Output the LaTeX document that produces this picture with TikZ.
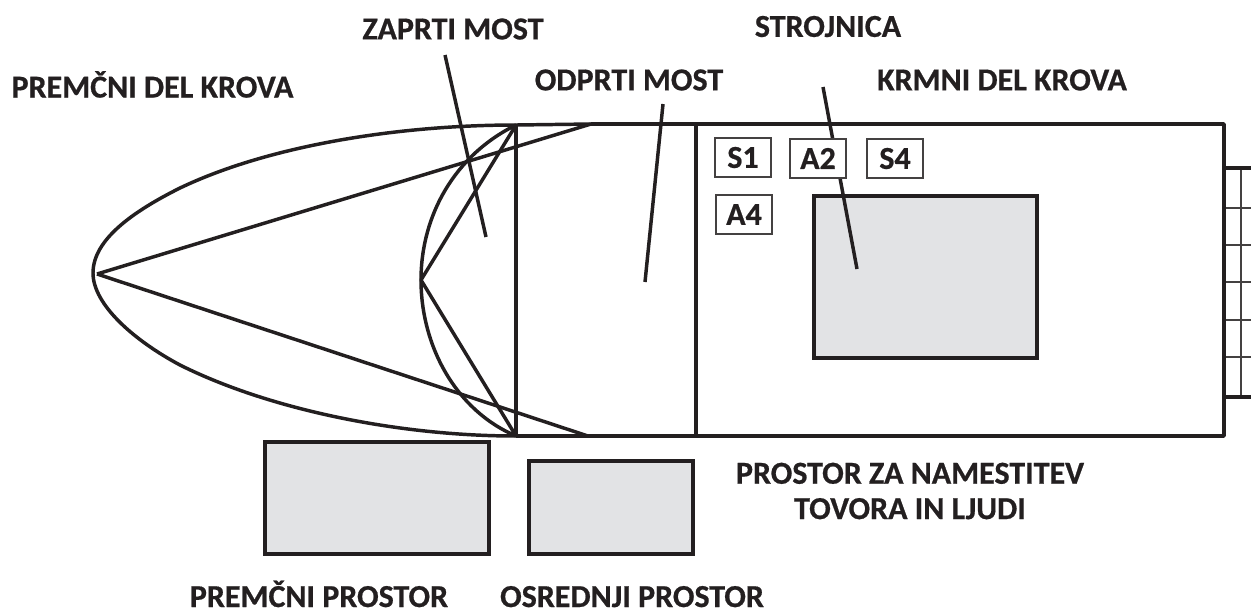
\documentclass[tikz,border=0pt]{standalone}
\usepackage{fontspec}
\setmainfont{Carlito}[BoldFeatures={FakeBold=0.6}]
\definecolor{ink}{HTML}{231F20}
\definecolor{panel}{HTML}{E2E3E5}
\tikzset{
  px/.style={x=0.75pt,y=-0.75pt},
  heavy/.style={draw=ink,line width=2.6pt},
  thin grid/.style={draw=ink!85,line width=1.3pt},
  panelbox/.style={draw=ink,fill=panel,line width=2.6pt},
  tag/.style={draw=ink!85,fill=white,line width=1.2pt,minimum width=42pt,minimum height=29.25pt,inner sep=0pt,font=\fontsize{24}{24}\selectfont\bfseries,text=ink},
  lab/.style={font=\fontsize{24}{26.5}\selectfont\bfseries,text=ink,inner sep=0pt,align=center}
}
\begin{document}
\begin{tikzpicture}[px]
\useasboundingbox (0,0) rectangle (1251,615);
\fill[white] (0,0) rectangle (1251,615);
% key points
\coordinate (tip) at (97,274);
\coordinate (ext) at (93,273);
\coordinate (bt) at (516,125);
\coordinate (bb) at (516,436);
\coordinate (rt) at (591,124);
\coordinate (rb) at (588,436);
\coordinate (sharp) at (421,280);
% stern grid
\foreach \yy in {208,245,282,320,357}{\draw[thin grid] (1224,\yy) -- (1251,\yy);}
\draw[thin grid] (1241,168) -- (1241,397);
\draw[heavy] (1224,168) -- (1251,168);
\draw[heavy] (1224,397) -- (1251,397);
% hull
\draw[heavy,line join=round] (rt) -- (1224,124) -- (1224,436) -- (rb);
\draw[heavy] (rt) -- (bt);
\draw[heavy] (rb) -- (bb);
\draw[heavy] (bt) .. controls (400,125) and (270,145) .. (180,188) .. controls (132,212) and (93,240) .. (ext) .. controls (93,305) and (135,341) .. (180,365) .. controls (270,410) and (400,436) .. (bb);
\draw[heavy] (tip) -- (rt);
\draw[heavy] (tip) -- (rb);
\draw[heavy] (bt) .. controls (455,155) and (421,215) .. (sharp) .. controls (421,345) and (455,410) .. (bb);
\draw[heavy,line join=round] (bt) -- (sharp) -- (bb);
\draw[heavy] (bt) -- (bb);
\draw[heavy] (696,124) -- (696,436);
% panels
\draw[panelbox] (814,196) rectangle (1037,358);
\draw[panelbox] (265,442) rectangle (489,554);
\draw[panelbox] (529,461) rectangle (693,554);
% leaders
\coordinate (l1a) at (445,55); \coordinate (l1b) at (486,237);
\coordinate (l2a) at (663,104); \coordinate (l2b) at (645,282);
\coordinate (l3a) at (823,87); \coordinate (l3b) at (857,269);
\draw[heavy] (l1a) -- (l1b);
\draw[heavy] (l2a) -- (l2b);
\draw[heavy] (l3a) -- (l3b);
% tags
\node[tag] (s1) at (743,157.5) {S1};
\node[tag] (a2) at (818,158.5) {A2};
\node[tag] (s4) at (895,158.5) {S4};
\node[tag] (a4) at (744,214.5) {A4};
% labels
\node[lab] (t1) at (152.5,84.5) {PREMČNI DEL KROVA};
\node[lab] (t2) at (453,29) {ZAPRTI MOST};
\node[lab] (t3) at (629,80) {ODPRTI MOST};
\node[lab] (t4) at (828,26.5) {STROJNICA};
\node[lab] (t5) at (1002,80) {KRMNI DEL KROVA};
\node[lab] (t6) at (910,491) {PROSTOR ZA NAMESTITEV\\TOVORA IN LJUDI};
\node[lab,anchor=base] (t7) at (319,607) {PREMČNI PROSTOR};
\node[lab,anchor=base] (t8) at (632,607) {OSREDNJI PROSTOR};
\end{tikzpicture}
\end{document}
